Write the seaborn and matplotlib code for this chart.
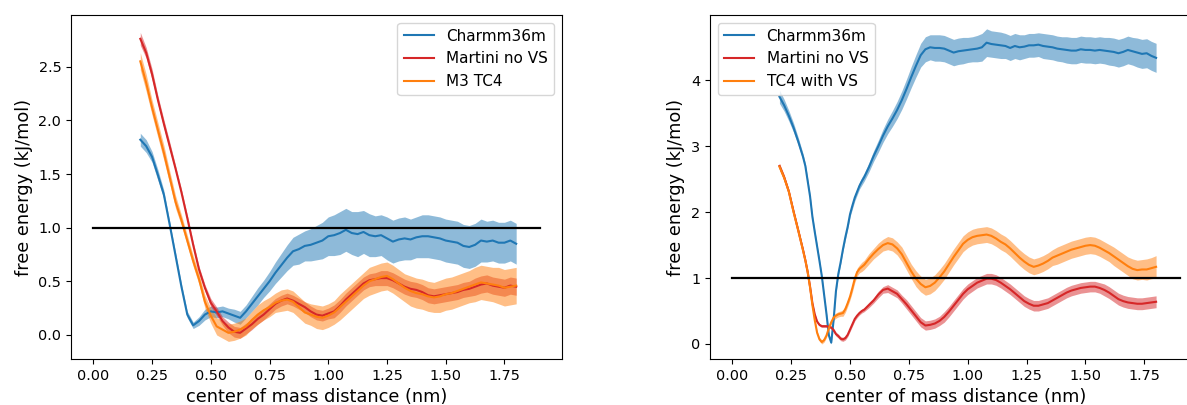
import numpy as np
import matplotlib
matplotlib.use("Agg")
import matplotlib.pyplot as plt
import seaborn as sns

# DATA

LEFT_X = np.round(np.arange(0.2, 1.8001, 0.025), 3)
RIGHT_X = np.round(np.r_[
    np.arange(0.20, 0.301, 0.02),
    np.arange(0.31, 0.551, 0.01),
    np.arange(0.56, 1.801, 0.02)
], 3)

LEFT_LABELS = ["Charmm36m", "Martini no VS", "M3 TC4"]
RIGHT_LABELS = ["Charmm36m", "Martini no VS", "TC4 with VS"]
COLORS = ["#1f77b4", "#d62728", "#ff7f0e"]

left_charmm = [
    1.82, 1.76, 1.66, 1.49, 1.31, 1.03, 0.74, 0.45, 0.19, 0.09,
    0.13, 0.19, 0.22, 0.21, 0.22, 0.20, 0.18, 0.16, 0.22, 0.29,
    0.36, 0.43, 0.50, 0.58, 0.65, 0.72, 0.78, 0.80, 0.83, 0.84,
    0.86, 0.88, 0.92, 0.93, 0.95, 0.98, 0.95, 0.94, 0.96, 0.93,
    0.92, 0.93, 0.90, 0.87, 0.89, 0.90, 0.89, 0.91, 0.92, 0.92,
    0.91, 0.90, 0.88, 0.87, 0.86, 0.83, 0.82, 0.84, 0.88, 0.87,
    0.88, 0.86, 0.86, 0.88, 0.85
]
left_charmm_err = [
    0.06, 0.06, 0.05, 0.05, 0.04, 0.03, 0.03, 0.03, 0.03, 0.03,
    0.04, 0.05, 0.05, 0.05, 0.05, 0.05, 0.06, 0.06, 0.06, 0.07,
    0.08, 0.08, 0.09, 0.10, 0.11, 0.12, 0.13, 0.14, 0.14, 0.15,
    0.16, 0.17, 0.18, 0.19, 0.20, 0.20, 0.20, 0.21, 0.20, 0.20,
    0.19, 0.19, 0.20, 0.20, 0.20, 0.20, 0.19, 0.19, 0.20, 0.20,
    0.20, 0.20, 0.20, 0.20, 0.20, 0.20, 0.20, 0.20, 0.20, 0.19,
    0.19, 0.19, 0.19, 0.19, 0.19
]
left_martini = [
    2.76, 2.63, 2.43, 2.19, 1.97, 1.76, 1.55, 1.33, 1.09, 0.84,
    0.61, 0.44, 0.30, 0.22, 0.13, 0.07, 0.03, 0.02, 0.06, 0.10,
    0.15, 0.19, 0.24, 0.29, 0.32, 0.34, 0.32, 0.29, 0.26, 0.22,
    0.19, 0.18, 0.20, 0.22, 0.27, 0.33, 0.38, 0.43, 0.48, 0.51,
    0.52, 0.53, 0.53, 0.51, 0.48, 0.45, 0.43, 0.42, 0.40, 0.37,
    0.36, 0.37, 0.38, 0.39, 0.40, 0.42, 0.43, 0.45, 0.47, 0.48,
    0.46, 0.45, 0.44, 0.46, 0.45
]
left_martini_err = [
    0.06, 0.05, 0.05, 0.04, 0.04, 0.04, 0.03, 0.03, 0.03, 0.03,
    0.03, 0.03, 0.04, 0.04, 0.04, 0.05, 0.05, 0.05, 0.05, 0.05,
    0.05, 0.05, 0.05, 0.05, 0.05, 0.05, 0.05, 0.05, 0.05, 0.05,
    0.05, 0.05, 0.05, 0.06, 0.06, 0.06, 0.06, 0.06, 0.06, 0.06,
    0.06, 0.07, 0.07, 0.07, 0.07, 0.07, 0.07, 0.07, 0.07, 0.07,
    0.07, 0.07, 0.07, 0.07, 0.07, 0.07, 0.07, 0.08, 0.08, 0.08,
    0.08, 0.08, 0.08, 0.08, 0.08
]
left_tc4 = [
    2.55, 2.35, 2.12, 1.91, 1.70, 1.47, 1.24, 1.07, 0.88, 0.69,
    0.52, 0.31, 0.18, 0.08, 0.05, 0.02, 0.03, 0.05, 0.08, 0.14,
    0.19, 0.23, 0.26, 0.30, 0.32, 0.33, 0.31, 0.26, 0.21, 0.19,
    0.17, 0.16, 0.18, 0.21, 0.26, 0.31, 0.36, 0.41, 0.46, 0.50,
    0.52, 0.54, 0.55, 0.52, 0.48, 0.44, 0.41, 0.39, 0.38, 0.36,
    0.35, 0.36, 0.38, 0.39, 0.41, 0.43, 0.45, 0.47, 0.49, 0.48,
    0.47, 0.46, 0.44, 0.45, 0.46
]
left_tc4_err = [
    0.08, 0.08, 0.07, 0.07, 0.07, 0.06, 0.06, 0.05, 0.05, 0.05,
    0.05, 0.06, 0.07, 0.08, 0.08, 0.08, 0.08, 0.08, 0.08, 0.08,
    0.09, 0.09, 0.09, 0.09, 0.10, 0.10, 0.10, 0.10, 0.10, 0.10,
    0.11, 0.11, 0.11, 0.11, 0.12, 0.12, 0.12, 0.12, 0.12, 0.13,
    0.13, 0.13, 0.13, 0.13, 0.13, 0.13, 0.14, 0.14, 0.14, 0.14,
    0.14, 0.15, 0.15, 0.15, 0.15, 0.15, 0.15, 0.16, 0.16, 0.16,
    0.16, 0.17, 0.17, 0.17, 0.17
]

right_charmm = [
    3.75, 3.62, 3.46, 3.28, 3.07, 2.84,
    2.70, 2.47, 2.24, 1.93, 1.70, 1.48, 1.26, 1.03, 0.74, 0.45,
    0.13, 0.02, 0.36, 0.80, 1.06, 1.24, 1.44, 1.62, 1.78, 1.97,
    2.10, 2.22, 2.31, 2.40, 2.47,
    2.53, 2.68, 2.85, 3.00, 3.16, 3.30, 3.42, 3.55, 3.70, 3.87,
    4.05, 4.22, 4.38, 4.47, 4.50, 4.49, 4.49, 4.48, 4.45, 4.42,
    4.44, 4.45, 4.46, 4.47, 4.48, 4.50, 4.57, 4.55, 4.54, 4.53,
    4.52, 4.49, 4.52, 4.50, 4.51, 4.53, 4.53, 4.54, 4.52, 4.51,
    4.50, 4.48, 4.47, 4.46, 4.45, 4.45, 4.47, 4.46, 4.46, 4.45,
    4.46, 4.45, 4.44, 4.43, 4.41, 4.43, 4.46, 4.44, 4.42, 4.40,
    4.41, 4.37, 4.34
]
right_charmm_err = [
    0.10, 0.09, 0.08, 0.07, 0.06, 0.05,
    0.04, 0.04, 0.03, 0.03, 0.03, 0.03, 0.03, 0.02, 0.02, 0.02,
    0.02, 0.02, 0.02, 0.03, 0.03, 0.03, 0.03, 0.04, 0.04, 0.04,
    0.05, 0.05, 0.05, 0.05, 0.06,
    0.06, 0.07, 0.08, 0.09, 0.10, 0.11, 0.12, 0.13, 0.14, 0.15,
    0.16, 0.17, 0.18, 0.19, 0.19, 0.20, 0.20, 0.20, 0.20, 0.20,
    0.20, 0.20, 0.19, 0.19, 0.20, 0.21, 0.21, 0.20, 0.20, 0.20,
    0.19, 0.19, 0.19, 0.19, 0.18, 0.18, 0.18, 0.18, 0.19, 0.19,
    0.19, 0.19, 0.19, 0.20, 0.20, 0.20, 0.20, 0.20, 0.20, 0.20,
    0.20, 0.20, 0.21, 0.21, 0.21, 0.21, 0.21, 0.21, 0.22, 0.22,
    0.22, 0.22, 0.22
]
right_martini = [
    2.70, 2.53, 2.31, 2.01, 1.72, 1.43,
    1.27, 1.09, 0.87, 0.62, 0.45, 0.34, 0.29, 0.27, 0.27, 0.27,
    0.26, 0.25, 0.21, 0.15, 0.12, 0.08, 0.07, 0.09, 0.14, 0.22,
    0.30, 0.38, 0.43, 0.47, 0.50,
    0.52, 0.59, 0.66, 0.75, 0.82, 0.84, 0.80, 0.76, 0.68, 0.60,
    0.51, 0.42, 0.33, 0.28, 0.29, 0.31, 0.35, 0.41, 0.49, 0.58,
    0.67, 0.76, 0.83, 0.88, 0.93, 0.96, 0.99, 0.99, 0.97, 0.93,
    0.88, 0.83, 0.77, 0.71, 0.65, 0.61, 0.58, 0.58, 0.60, 0.62,
    0.66, 0.70, 0.74, 0.78, 0.81, 0.83, 0.85, 0.86, 0.87, 0.87,
    0.85, 0.82, 0.78, 0.73, 0.68, 0.65, 0.63, 0.62, 0.61, 0.61,
    0.62, 0.63, 0.64
]
right_martini_err = [
    0.04, 0.03, 0.03, 0.03, 0.03, 0.03,
    0.02, 0.02, 0.02, 0.02, 0.02, 0.02, 0.02, 0.02, 0.02, 0.02,
    0.02, 0.02, 0.03, 0.03, 0.03, 0.03, 0.03, 0.03, 0.03, 0.03,
    0.03, 0.03, 0.03, 0.03, 0.03,
    0.03, 0.04, 0.04, 0.05, 0.05, 0.06, 0.06, 0.06, 0.06, 0.07,
    0.07, 0.07, 0.07, 0.07, 0.07, 0.07, 0.07, 0.08, 0.08, 0.08,
    0.08, 0.08, 0.08, 0.08, 0.08, 0.08, 0.08, 0.08, 0.08, 0.08,
    0.08, 0.08, 0.08, 0.08, 0.08, 0.08, 0.08, 0.08, 0.08, 0.08,
    0.08, 0.08, 0.08, 0.08, 0.08, 0.08, 0.08, 0.08, 0.08, 0.08,
    0.08, 0.09, 0.09, 0.09, 0.09, 0.09, 0.09, 0.09, 0.09, 0.09,
    0.09, 0.09, 0.09
]
right_tc4 = [
    2.69, 2.52, 2.31, 2.00, 1.72, 1.42,
    1.27, 1.09, 0.86, 0.59, 0.36, 0.17, 0.07, 0.03, 0.06, 0.13,
    0.24, 0.33, 0.40, 0.43, 0.45, 0.46, 0.47, 0.53, 0.62, 0.72,
    0.85, 0.99, 1.09, 1.14, 1.17,
    1.20, 1.29, 1.37, 1.44, 1.50, 1.53, 1.51, 1.45, 1.36, 1.23,
    1.10, 0.99, 0.91, 0.86, 0.88, 0.93, 1.01, 1.10, 1.21, 1.32,
    1.42, 1.52, 1.58, 1.62, 1.64, 1.65, 1.66, 1.64, 1.60, 1.55,
    1.51, 1.45, 1.38, 1.31, 1.25, 1.20, 1.17, 1.19, 1.22, 1.26,
    1.31, 1.34, 1.37, 1.40, 1.43, 1.45, 1.47, 1.49, 1.50, 1.49,
    1.46, 1.42, 1.38, 1.33, 1.28, 1.23, 1.18, 1.14, 1.12, 1.13,
    1.13, 1.15, 1.17
]
right_tc4_err = [
    0.05, 0.05, 0.04, 0.04, 0.04, 0.04,
    0.03, 0.03, 0.03, 0.03, 0.03, 0.03, 0.03, 0.03, 0.03, 0.03,
    0.03, 0.03, 0.04, 0.04, 0.04, 0.04, 0.05, 0.05, 0.05, 0.05,
    0.06, 0.06, 0.06, 0.06, 0.07,
    0.07, 0.08, 0.08, 0.09, 0.09, 0.10, 0.10, 0.10, 0.11, 0.11,
    0.11, 0.12, 0.12, 0.12, 0.12, 0.12, 0.12, 0.12, 0.12, 0.12,
    0.12, 0.12, 0.12, 0.12, 0.12, 0.12, 0.12, 0.12, 0.12, 0.12,
    0.12, 0.12, 0.12, 0.12, 0.12, 0.12, 0.12, 0.12, 0.12, 0.12,
    0.12, 0.13, 0.13, 0.13, 0.13, 0.13, 0.13, 0.13, 0.13, 0.13,
    0.13, 0.13, 0.13, 0.14, 0.14, 0.14, 0.14, 0.15, 0.15, 0.15,
    0.16, 0.16, 0.17
]

REF_LEVEL = 1.0
REF_RANGE = [0.0, 1.9]

# PLOTTING

def draw_panel(ax, x, series, errors, labels, legend_loc):
    for y, err, label, color in zip(series, errors, labels, COLORS):
        y = np.array(y)
        err = np.array(err)
        sns.lineplot(x=x, y=y, ax=ax, color=color, label=label, lw=1.5)
        ax.fill_between(x, y - err, y + err, color=color, alpha=0.5, lw=0)
    ax.plot(REF_RANGE, [REF_LEVEL, REF_LEVEL], color="black", lw=1.6)
    ax.set_xlabel("center of mass distance (nm)", fontsize=12.8)
    ax.set_ylabel("free energy (kJ/mol)", fontsize=12.8)
    ax.tick_params(labelsize=10.4)
    ax.set_xticks([0.0, 0.25, 0.5, 0.75, 1.0, 1.25, 1.5, 1.75])
    ax.set_xlim(-0.095, 1.995)
    ax.legend(loc=legend_loc, fontsize=11)


fig = plt.figure(figsize=(11.87, 4.05), dpi=100)
ax_left = fig.add_axes([71 / 1187, 46 / 405, 491 / 1187, 344 / 405])
ax_right = fig.add_axes([710 / 1187, 46 / 405, 492 / 1187, 344 / 405])

draw_panel(
    ax_left,
    LEFT_X,
    [left_charmm, left_martini, left_tc4],
    [left_charmm_err, left_martini_err, left_tc4_err],
    LEFT_LABELS,
    "upper right"
)
ax_left.set_ylim(-0.224, 2.982)
ax_left.set_yticks([0.0, 0.5, 1.0, 1.5, 2.0, 2.5])

draw_panel(
    ax_right,
    RIGHT_X,
    [right_charmm, right_martini, right_tc4],
    [right_charmm_err, right_martini_err, right_tc4_err],
    RIGHT_LABELS,
    "upper left"
)
ax_right.set_ylim(-0.228, 4.99)
ax_right.set_yticks([0, 1, 2, 3, 4])

fig.savefig("out.png", dpi=100)
plt.close(fig)
